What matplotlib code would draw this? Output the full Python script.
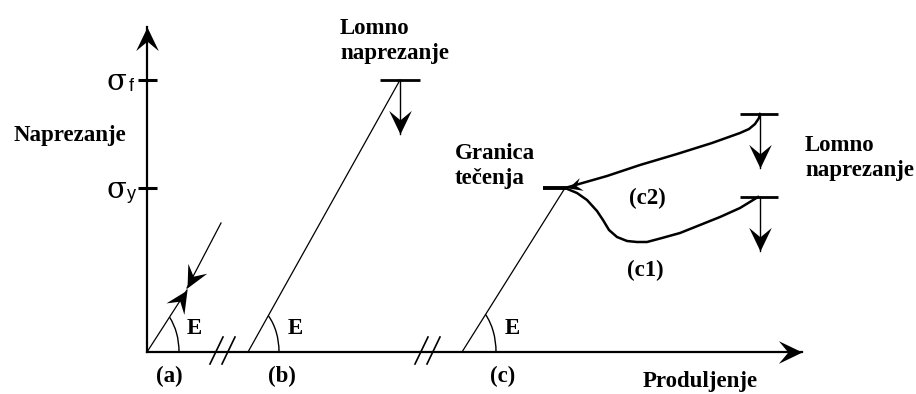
import matplotlib
matplotlib.use("Agg")
import matplotlib.pyplot as plt
import numpy as np
from matplotlib.markers import MarkerStyle
from matplotlib.patches import Arc
from matplotlib.path import Path
from matplotlib.transforms import Affine2D

# units: roughly one pixel, origin where the two axes meet
sigma_f = 272
sigma_y = 164

# (a) elastic loading / unloading
a_load_x = [0, 40]
a_load_y = [0, 62]
a_unload_x = [74, 40]
a_unload_y = [129, 64]

# (b) brittle, breaks at sigma_f
b_x = [101, 253]
b_y = [0, sigma_f]

# (c) elastic part up to yield
c_x = [315, 418]
c_y = [0, sigma_y]

# (c2) hardening branch, (c1) necking branch
c2_x = [418, 460, 493, 530, 565, 593, 602, 608, 612, 613]
c2_y = [164, 176, 187, 198, 209, 219, 223, 228, 234, 238]
c1_x = [418, 430, 440, 450, 456, 462, 470, 480, 490, 500, 515, 533, 553, 573, 593, 611]
c1_y = [164, 159, 152, 141, 132, 122, 115, 111, 110, 110, 114, 119, 127, 135, 144, 155]
c2_break = 238
c1_break = 155
break_end_x = 613

# axis break positions
axis_breaks = [63, 268]

fig = plt.figure(figsize=(9.16, 3.94), dpi=100)
ax = fig.add_axes([0, 0, 1, 1])
ax.set_xlim(-147, 769)
ax.set_ylim(-42, 352)
ax.axis("off")

k = "black"
font = dict(family="Liberation Serif", fontweight="bold", fontsize=16.5, color=k)

# stealth arrow head, tip at origin, pointing to +x
stealth = Path([(0, 0), (-1, 0.48), (-0.6, 0), (-1, -0.48), (0, 0)],
               [Path.MOVETO, Path.LINETO, Path.LINETO, Path.LINETO, Path.CLOSEPOLY])


def arrow(x0, y0, x1, y1, lw=1.2, size=34):
    ax.plot([x0, x1], [y0, y1], color=k, lw=lw)
    ang = np.degrees(np.arctan2(y1 - y0, x1 - x0))
    m = MarkerStyle(stealth, transform=Affine2D().rotate_deg(ang))
    ax.plot([x1], [y1], marker=m, ms=size, color=k, mew=0, ls="none")


# axes
arrow(0, 0, 0, 325, lw=1.6)
arrow(0, 0, 655, 0, lw=1.6)

# stress ticks
for s, sub in [(sigma_f, "f"), (sigma_y, "y")]:
    ax.plot([-9, 10], [s, s], color=k, lw=2.2, solid_capstyle="butt")
    ax.text(-31, s - 2, "σ", family="DejaVu Serif", fontsize=21,
            ha="center", va="center", color=k)
    ax.text(-16, s - 6, sub, family="Liberation Sans", fontsize=13,
            ha="center", va="center", color=k)

# axis break marks
for bx in axis_breaks:
    for off in [0, 12]:
        ax.plot([bx + off, bx + off + 13], [-12, 15], color=k, lw=1.2)

# (a)
arrow(a_load_x[0], a_load_y[0], a_load_x[1], a_load_y[1], lw=0.9, size=32)
arrow(a_unload_x[0], a_unload_y[0], a_unload_x[1], a_unload_y[1], lw=0.9, size=32)

# (b)
ax.plot(b_x, b_y, color=k, lw=0.9)
ax.plot([b_x[1] - 20, b_x[1] + 20], [sigma_f, sigma_f], color=k, lw=2.0, solid_capstyle="butt")
arrow(b_x[1], sigma_f, b_x[1], sigma_f - 54, lw=1.0)

# (c)
ax.plot(c_x, c_y, color=k, lw=0.9)
ax.plot([c_x[1] - 22, c_x[1] + 3], [sigma_y, sigma_y], color=k, lw=2.8, solid_capstyle="butt")
ax.plot(c2_x, c2_y, color=k, lw=1.8)
ax.plot(c1_x, c1_y, color=k, lw=1.8)
ang = np.degrees(np.arctan2(c2_y[0] - c2_y[2], c2_x[0] - c2_x[2]))
ax.plot([c2_x[0] + 3], [c2_y[0]], ls="none", color=k, mew=0, ms=20,
        marker=MarkerStyle(stealth, transform=Affine2D().rotate_deg(ang)))
for lvl in [c2_break, c1_break]:
    ax.plot([break_end_x - 20, break_end_x + 18], [lvl, lvl], color=k, lw=2.0, solid_capstyle="butt")
    arrow(break_end_x, lvl, break_end_x, lvl - 54, lw=1.0)

# modulus arcs
for x0, x1, y1, a, b in [(0, a_load_x[1], a_load_y[1], 32, 49),
                         (b_x[0], b_x[1], b_y[1], 31, 48),
                         (c_x[0], c_x[1], c_y[1], 34, 52)]:
    ang = np.degrees(np.arctan2(y1, x1 - x0))
    ax.add_patch(Arc((x0, 0), 2 * a, 2 * b, theta1=0, theta2=ang, color=k, lw=1.0))

for x0 in [0, b_x[0], c_x[0]]:
    ax.text(x0 + 47 + (3 if x0 == c_x[0] else 0), 24, "E", ha="center", va="center", **font)

ax.text(22, -24, "(a)", ha="center", va="center", **font)
ax.text(135, -24, "(b)", ha="center", va="center", **font)
ax.text(356, -24, "(c)", ha="center", va="center", **font)
ax.text(553, -30, "Produljenje", ha="center", va="center", **font)
ax.text(-77, 217, "Naprezanje", ha="center", va="center", **font)
ax.text(193, 311, "Lomno\nnaprezanje", ha="left", va="center", linespacing=1.2, **font)
ax.text(308, 186, "Granica\ntečenja", ha="left", va="center", linespacing=1.2, **font)
ax.text(658, 194, "Lomno\nnaprezanje", ha="left", va="center", linespacing=1.2, **font)
ax.text(500, 154, "(c2)", ha="center", va="center", **font)
ax.text(498, 82, "(c1)", ha="center", va="center", **font)

fig.savefig("out.png", dpi=100, facecolor="white")
